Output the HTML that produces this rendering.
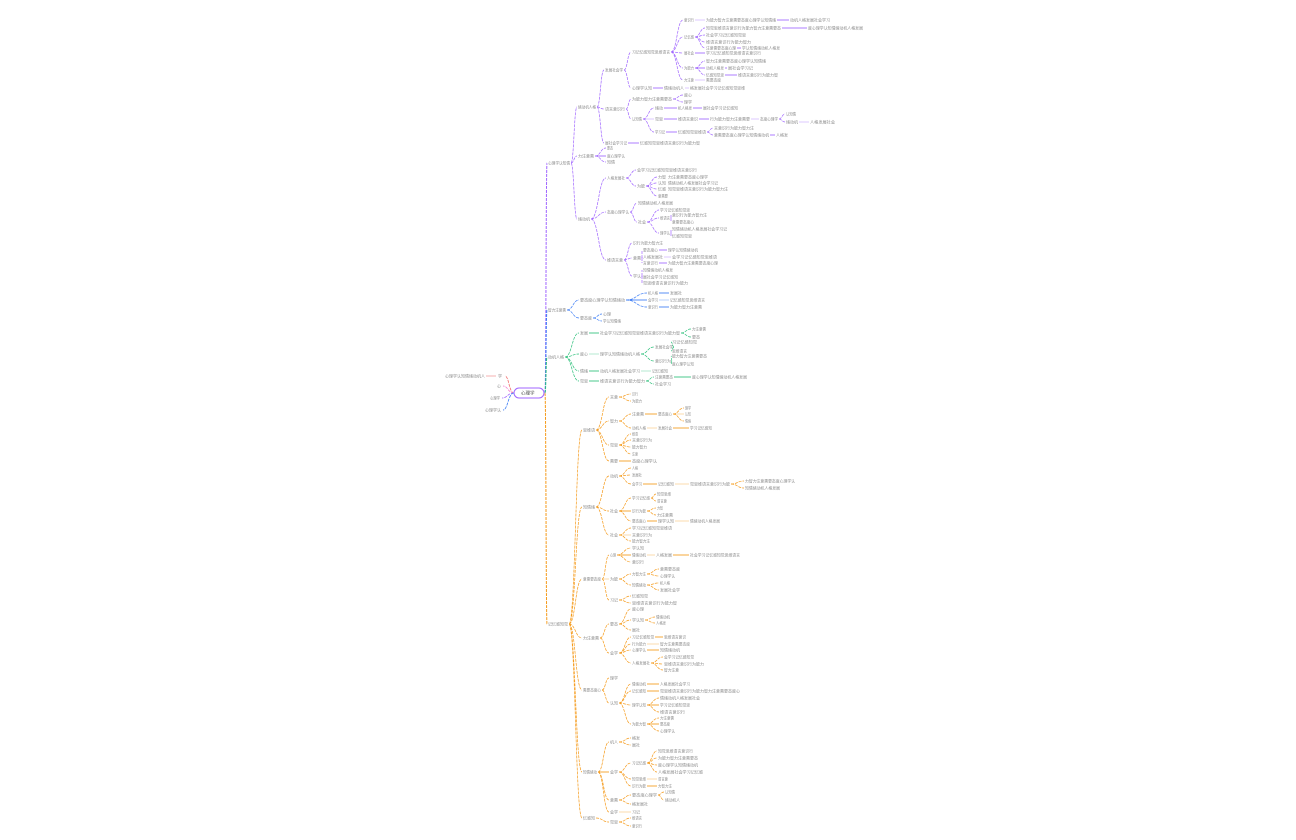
<!DOCTYPE html>
<html><head><meta charset="utf-8"><style>
html,body{margin:0;padding:0;background:#fff;width:1296px;height:840px;overflow:hidden}
svg{display:block}
text{font-family:"Liberation Sans","Noto Sans CJK SC",sans-serif;font-size:4px;fill:#8c8c8c}
</style></head><body>
<svg id="s" width="1296" height="840" viewBox="0 0 1296 840" xmlns="http://www.w3.org/2000/svg"></svg>
<script>
var S=document.getElementById('s'),NS='http://www.w3.org/2000/svg';
var nodes=[],chars='心理学认知情绪动机人格发展社会学习记忆感知觉思维语言意识行为能力智力注意需要态度';
function N(x,y,w,p,c){var col=c||(p!=null?nodes[p].c:'#a066ff');nodes.push({x:x,y:y,w:w,p:p,c:col});return nodes.length-1;}
function el(t,a){var e=document.createElementNS(NS,t);for(var k in a)e.setAttribute(k,a[k]);S.appendChild(e);return e;}
var R=N(517,393,26,null,'#a066ff');
var P='#a066ff',B='#3b7cf5',G='#2cc07a',O='#f59a1a';
var P1=N(548,163,22,R,P);
var P11=N(578,107,18,P1);
var P111=N(605,70,18,P11);
var a=N(632,52,38,P111);
N(790,20,40,N(706,20,70,N(684,20,10,a)));
var c=N(684,37,10,a);N(808,28,55,N(706,28,75,c));N(706,35,40,c);N(706,42,45,c);N(742,48,38,N(706,48,30,c));
N(706,53,55,N(684,53,10,a));
var d=N(684,68,10,a);N(706,61,60,d);N(728,68,25,N(706,68,18,d));N(738,75,40,N(706,75,18,d));
N(706,80,15,N(684,80,10,a));
N(690,88,55,N(664,88,20,N(632,88,20,P111)));
var P112=N(605,109,20,P11);
var f=N(632,99,40,P112);N(684,95,8,f);N(684,102,8,f);
var g=N(632,119,10,P112);
N(703,108,35,N(678,108,14,N(655,108,8,g)));
var i4=N(760,119,18,N(710,119,40,N(678,119,20,N(655,119,8,g))));
N(786,114,10,i4);N(810,122,25,N(786,122,12,i4));
var j=N(678,132,28,N(655,132,10,g));N(714,128,40,j);N(776,135,12,N(714,135,55,j));
N(640,143,60,N(605,143,22,P11));
var P12=N(578,156,16,P1);N(607,148,6,P12);N(607,156,18,P12);N(607,162,8,P12);
var P13=N(578,219,12,P1);
var k=N(607,178,18,P13);N(637,170,60,k);var l=N(637,186,8,k);
N(668,177,40,N(658,177,8,l));N(668,183,50,N(658,183,8,l));N(668,189,60,N(658,189,8,l));N(658,196,10,l);
var m=N(607,212,22,P13);N(638,203,35,m);var o=N(638,222,8,m);N(660,210,30,o);
var pp=N(660,218,10,o);N(672,215,35,pp);N(672,222,22,pp);
var q=N(660,233,10,o);N(672,229,55,q);N(672,236,20,q);
var r=N(607,260,16,P13);N(633,243,30,r);var s=N(633,258,8,r);
N(668,250,30,N(643,250,15,s));N(672,257,45,N(643,257,20,s));N(668,263,50,N(643,263,15,s));
var t=N(633,276,8,r);N(643,270,30,t);N(643,277,35,t);N(643,283,45,t);
var Bn=N(548,310,18,R,B);
var u=N(580,300,45,Bn);N(670,293,12,N(648,293,10,u));N(670,300,35,N(648,300,10,u));N(670,307,32,N(648,307,10,u));
var v=N(580,318,12,Bn);N(603,314,8,v);N(603,321,18,v);
var Gn=N(548,357,16,R,G);
var x=N(600,333,80,N(580,333,8,Gn));N(692,329,14,x);N(692,337,8,x);
var z=N(600,354,40,N(580,354,8,Gn));
var z1=N(655,347,18,z);N(672,342,25,z1);N(672,351,15,z1);
var z2=N(655,361,16,z);N(672,356,35,z2);N(672,364,22,z2);
N(652,371,16,N(600,371,40,N(580,371,8,Gn)));
var aa=N(600,381,45,N(580,381,8,Gn));N(692,377,55,N(655,377,18,aa));N(655,384,16,aa);
var On=N(548,624,20,R,O);
var O1=N(583,430,12,On);
var b0=N(610,397,8,O1);N(632,394,6,b0);N(632,401,10,b0);
var b1=N(610,421,8,O1);var b5=N(658,414,14,N(632,414,12,b1));N(685,408,6,b5);N(685,414,6,b5);N(685,421,6,b5);
N(690,428,22,N(658,428,14,N(632,428,14,b1)));
var b2=N(610,445,8,O1);N(632,434,6,b2);N(632,440,20,b2);N(632,447,15,b2);N(632,454,6,b2);
N(632,461,25,N(610,461,8,O1));
var O2=N(583,507,12,On);
var c1=N(610,476,8,O2);N(632,468,6,c1);N(632,475,10,c1);
var c6=N(690,484,40,N(658,484,16,N(632,484,10,c1)));N(745,481,50,c6);N(745,488,35,c6);
var c3=N(610,511,8,O2);var c7=N(632,498,18,c3);N(657,494,14,c7);N(657,501,10,c7);
var c8=N(632,511,14,c3);N(657,508,6,c8);N(657,515,16,c8);
N(690,521,30,N(658,521,16,N(632,521,14,c3)));
var c4=N(610,535,8,O2);N(632,528,40,c4);N(632,535,20,c4);N(632,541,18,c4);
var O3=N(583,579,18,On);
var d1=N(610,555,6,O3);N(632,548,12,d1);N(690,555,50,N(656,555,16,N(632,555,14,d1)));N(632,562,12,d1);
var d3=N(610,579,8,O3);var d5=N(632,574,14,d3);N(660,569,20,d5);N(660,576,15,d5);
var d6=N(632,585,14,d3);N(660,583,10,d6);N(660,590,20,d6);
var d4=N(610,600,8,O3);N(632,596,16,d4);N(632,603,45,d4);
var O4=N(583,638,16,On);
var e1=N(610,624,8,O4);N(632,609,12,e1);var e3=N(632,620,12,e1);N(656,617,14,e3);N(656,623,10,e3);N(632,630,8,e1);
var e2=N(610,653,8,O4);N(664,637,22,N(632,637,22,e2));N(660,644,30,N(632,644,14,e2));N(660,650,20,N(632,650,14,e2));
var e4=N(632,663,18,e2);N(664,657,30,e4);N(664,664,40,e4);N(664,670,15,e4);
var O5=N(583,690,18,On);N(610,678,8,O5);
var f1=N(610,703,8,O5);N(660,684,30,N(632,684,14,f1));N(660,691,80,N(632,691,14,f1));
var f2=N(632,705,14,f1);N(660,698,40,f2);N(660,705,30,f2);N(660,712,25,f2);
var f3=N(632,724,14,f1);N(660,718,14,f3);N(660,724,10,f3);N(660,731,15,f3);
var O6=N(583,772,14,On);
var g0=N(610,742,8,O6);N(632,738,8,g0);N(632,745,8,g0);
var g1=N(610,772,8,O6);var g3=N(632,763,14,g1);N(658,751,35,g3);N(658,758,40,g3);N(658,765,40,g3);N(658,772,45,g3);
N(658,779,10,N(632,779,14,g1));N(658,786,14,N(632,786,14,g1));
var g2=N(610,800,8,O6);var g4=N(632,795,25,g2);N(665,792,10,g4);N(665,800,15,g4);N(632,804,16,g2);
N(632,812,8,N(610,812,8,O6));
var O7=N(583,818,12,On);var h7=N(610,822,8,O7);N(632,818,10,h7);N(632,826,10,h7);
var ci=0;
nodes.forEach(function(nd,idx){
 if(nd.p!=null){var pa=nodes[nd.p];var x1=pa.x+pa.w+(nd.p==R?2:1),y1=pa.y,x2=nd.x-1,y2=nd.y;
  if(Math.abs(y1-y2)<1){el('line',{x1:x1,y1:y1,x2:x2,y2:y2,stroke:nd.c,'stroke-width':1,opacity:(idx%3==0?0.35:0.85)});}
  else{var mx=(x1+x2)/2;el('path',{d:'M'+x1+' '+y1+' C'+mx+' '+y1+' '+mx+' '+y2+' '+x2+' '+y2,fill:'none',stroke:nd.c,'stroke-width':(nd.p==R?1:0.7),'stroke-dasharray':'3 1'});}}
 if(idx==R)return;
 var n=Math.max(1,Math.round(nd.w/4)),str='';for(var q2=0;q2<n;q2++){str+=chars[(ci++)%chars.length];}
 var te=el('text',{x:nd.x,y:nd.y+1.4,textLength:nd.w,lengthAdjust:'spacingAndGlyphs'});te.textContent=str;
});
el('rect',{x:514,y:388,width:30,height:10,rx:5,fill:'#fff',stroke:'#a066ff','stroke-width':1});
var rt=el('text',{x:521,y:394.5,style:'font-size:4.5px;fill:#444'});rt.textContent='心理学';
var L=[[445,376,40,'#f26b6b',true],[497,386,4,'#f07ad0'],[490,398,10,'#a066ff'],[485,410,16,'#3b7cf5']];
L.forEach(function(a){var xe=a[0]+a[2]+1;
 var te=el('text',{x:a[0],y:a[1]+1.4,textLength:a[2],lengthAdjust:'spacingAndGlyphs'});te.textContent='心理学认知情绪动机人格'.slice(0,Math.max(1,Math.round(a[2]/4)));
 if(a[4]){el('line',{x1:xe,y1:a[1],x2:xe+10,y2:a[1],stroke:'#f6b0b0','stroke-width':1});var t2=el('text',{x:xe+12,y:a[1]+1.4});t2.textContent='学';xe+=18;}
 var mx=(xe+514)/2;el('path',{d:'M514 393 C'+mx+' 393 '+mx+' '+a[1]+' '+(xe+1)+' '+a[1],fill:'none',stroke:a[3],'stroke-width':0.8,'stroke-dasharray':'3 1'});
});
</script>
</body></html>
